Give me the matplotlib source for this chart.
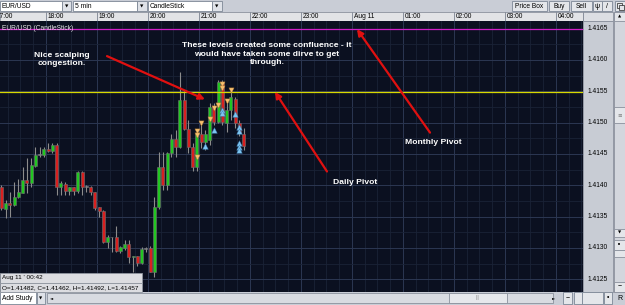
import numpy as np
import matplotlib
matplotlib.use("Agg")
import matplotlib.pyplot as plt
from matplotlib.patches import Rectangle
from matplotlib.ticker import MultipleLocator

W, H = 625, 305

# EUR/USD 5 min candles starting 17:05
opens = [1.41397, 1.41362, 1.41372, 1.41368, 1.41381, 1.41388, 1.41408, 1.41404, 1.41431, 1.41448,
         1.41448, 1.41458, 1.41455, 1.41464, 1.41397, 1.41402, 1.41391, 1.41397, 1.41391, 1.41421,
         1.41397, 1.41397, 1.41389, 1.41365, 1.41359, 1.41309, 1.41317, 1.41317, 1.41295, 1.41300,
         1.41306, 1.41285, 1.41287, 1.41276, 1.41298, 1.41300, 1.41262, 1.41365, 1.41429, 1.41400,
         1.41452, 1.41474, 1.41461, 1.41536, 1.41490, 1.41461, 1.41429, 1.41482, 1.41469, 1.41472,
         1.41525, 1.41501, 1.41565, 1.41500, 1.41520, 1.41538, 1.41500, 1.41482]
highs = [1.41400, 1.41376, 1.41389, 1.41405, 1.41410, 1.41429, 1.41444, 1.41444, 1.41461, 1.41461,
         1.41461, 1.41468, 1.41468, 1.41468, 1.41407, 1.41405, 1.41397, 1.41398, 1.41422, 1.41422,
         1.41400, 1.41399, 1.41390, 1.41366, 1.41361, 1.41320, 1.41318, 1.41335, 1.41303, 1.41312,
         1.41312, 1.41288, 1.41288, 1.41301, 1.41301, 1.41303, 1.41381, 1.41453, 1.41453, 1.41453,
         1.41482, 1.41488, 1.41581, 1.41552, 1.41504, 1.41468, 1.41490, 1.41500, 1.41488, 1.41532,
         1.41532, 1.41568, 1.41568, 1.41536, 1.41552, 1.41541, 1.41504, 1.41492]
lows = [1.41360, 1.41348, 1.41349, 1.41367, 1.41380, 1.41387, 1.41388, 1.41397, 1.41429, 1.41445,
        1.41445, 1.41453, 1.41452, 1.41384, 1.41384, 1.41384, 1.41384, 1.41384, 1.41388, 1.41384,
        1.41389, 1.41384, 1.41360, 1.41349, 1.41308, 1.41300, 1.41293, 1.41294, 1.41292, 1.41296,
        1.41276, 1.41261, 1.41272, 1.41274, 1.41293, 1.41261, 1.41253, 1.41362, 1.41392, 1.41392,
        1.41445, 1.41445, 1.41460, 1.41488, 1.41452, 1.41423, 1.41423, 1.41460, 1.41456, 1.41464,
        1.41496, 1.41500, 1.41496, 1.41485, 1.41504, 1.41492, 1.41479, 1.41457]
closes = [1.41364, 1.41372, 1.41368, 1.41381, 1.41389, 1.41408, 1.41404, 1.41432, 1.41448, 1.41448,
          1.41458, 1.41455, 1.41464, 1.41397, 1.41404, 1.41391, 1.41397, 1.41391, 1.41421, 1.41397,
          1.41397, 1.41389, 1.41364, 1.41359, 1.41309, 1.41317, 1.41317, 1.41295, 1.41301, 1.41306,
          1.41285, 1.41287, 1.41276, 1.41298, 1.41298, 1.41262, 1.41365, 1.41429, 1.41400, 1.41452,
          1.41474, 1.41461, 1.41536, 1.41490, 1.41461, 1.41429, 1.41482, 1.41469, 1.41482, 1.41525,
          1.41501, 1.41565, 1.41501, 1.41520, 1.41540, 1.41500, 1.41484, 1.41462]

# signal markers (candle index, price)
sell_idx = [46, 46, 46, 47, 49, 50, 51, 52, 52, 53, 54]
sell_px = [1.41445, 1.41487, 1.41480, 1.41499, 1.41506, 1.41523, 1.41528, 1.41562, 1.41555, 1.41534, 1.41552]
buy_idx = [48, 50, 52, 52, 55, 56, 56, 56, 56, 56]
buy_px = [1.41463, 1.41488, 1.41520, 1.41515, 1.41514, 1.41493, 1.41487, 1.41467, 1.41461, 1.41456]

daily_pivot = 1.41549
monthly_pivot = 1.41649

hour_labels = ["17:00", "18:00", "19:00", "20:00", "21:00", "22:00", "23:00",
               "Aug 11", "01:00", "02:00", "03:00", "04:00"]
price_ticks = [1.4125, 1.4130, 1.4135, 1.4140, 1.4145, 1.4150, 1.4155, 1.4160, 1.4165]

BG = "#0b1020"
PANEL = "#c9cdd6"
FONT = "Liberation Sans"


def box(x0, y0, x1, y1):
    return [x0 / W, 1 - y1 / H, (x1 - x0) / W, (y1 - y0) / H]


def rect(a, x0, y0, x1, y1, fc, ec="#8a909c", lw=0.6):
    a.add_patch(Rectangle((x0, y0), x1 - x0, y1 - y0, fc=fc, ec=ec, lw=lw))


def label(a, x, y, s, size=4.8, ha="left", color="black"):
    a.text(x, y, s, fontsize=size, ha=ha, va="center", color=color, family=FONT)


def glyph(a, x, y, s, size=3.2):
    a.text(x, y, s, fontsize=size, ha="center", va="center")


fig = plt.figure(figsize=(6.25, 3.05), dpi=100)

# ---- window chrome (pixel coords) ----
ui = fig.add_axes([0, 0, 1, 1])
ui.set_xlim(0, W)
ui.set_ylim(H, 0)
ui.axis("off")
ui.set_zorder(0)

rect(ui, 0, 0, W, H, PANEL, ec="none")

# toolbar
for x0, x1, xa, s in [(0, 62, 71, "EUR/USD"), (73, 137, 147, "5 min"), (148, 212, 222, "CandleStick")]:
    rect(ui, x0, 0.5, x1, 11, "white", ec="#7d8796")
    rect(ui, x1, 0.5, xa, 11, "#dfe2e8", ec="#7d8796")
    label(ui, x0 + 2, 6, s)
    glyph(ui, (x1 + xa) / 2, 6.3, "▼")
for x0, x1, s in [(512, 547, "Price Box"), (549, 569, "Buy"), (571, 592, "Sell")]:
    rect(ui, x0, 1, x1, 11, "#e4e6ea", ec="#7d8796")
    label(ui, (x0 + x1) / 2, 6, s, ha="center")
rect(ui, 593, 1, 602, 11, "#e4e6ea", ec="#7d8796")
label(ui, 597.5, 6, "ψ", ha="center", size=5)
rect(ui, 602, 1, 612, 11, "#e4e6ea", ec="#7d8796")
label(ui, 607, 6, "/", ha="center", size=5)
rect(ui, 615, 1, 625, 11, "#e4e6ea", ec="#7d8796")
rect(ui, 617, 3, 622, 7.5, "none", ec="#222222", lw=0.5)
rect(ui, 619, 5, 624, 9.5, "#e4e6ea", ec="#222222", lw=0.5)

# price column + header corner
rect(ui, 583, 12, 613, 21, "#dcdee3")
rect(ui, 583, 21, 613, 292, "#c8ccd4")

# vertical scrollbar
rect(ui, 614, 12, 625, 292, "#d3d6dd")
rect(ui, 614, 12, 625, 21, "#e4e6ea")
glyph(ui, 619.5, 16.5, "▲", 3)
rect(ui, 614, 107, 625, 123, "#e4e6ea")
ui.text(619.5, 115, "≡", fontsize=4, ha="center", va="center", color="#777777")
rect(ui, 614, 229, 625, 237, "#e4e6ea")
glyph(ui, 619.5, 233, "▼", 3)
rect(ui, 614, 240, 625, 250, "#e4e6ea")
glyph(ui, 619.5, 245, "•", 5)
rect(ui, 614, 250, 625, 257, "#e4e6ea")
rect(ui, 614, 282, 625, 292, "#e4e6ea")
label(ui, 619.5, 287, "−", ha="center", size=5)

# bottom bar
rect(ui, 0, 292, 36, 304, "white", ec="#7d8796")
label(ui, 2, 298, "Add Study")
rect(ui, 37, 292, 45, 304, "#dfe2e8", ec="#7d8796")
glyph(ui, 41, 298.3, "▼", 3)
rect(ui, 47, 293, 553, 303, "#d8dbe1")
glyph(ui, 52, 298, "◄", 3)
rect(ui, 449, 293, 507, 303, "#e6e8ec")
label(ui, 478, 298, "|||", ha="center", size=3.5, color="#888888")
glyph(ui, 554, 298, "►", 3)
rect(ui, 563, 292, 572, 304, "#e4e6ea", ec="#7d8796")
label(ui, 567.5, 298, "−", ha="center", size=5)
rect(ui, 574, 292, 582, 304, "#e4e6ea", ec="#7d8796")
rect(ui, 582, 292, 603, 304, "#e4e6ea", ec="#7d8796")
rect(ui, 604, 292, 612, 304, "#e4e6ea", ec="#7d8796")
label(ui, 608, 298, "•", ha="center", size=5)
label(ui, 620, 298, "R", ha="center", size=5)

# ---- main chart ----
t = 7.5 + 5 * np.arange(len(opens))          # minutes after 17:00
xlim = (5.9, 691.8)
ylim = (1.412298, 1.41662)

ax = fig.add_axes(box(0, 21, 583, 292))
ax.set_zorder(2)
ax.set_facecolor(BG)
ax.set_xlim(*xlim)
ax.set_ylim(*ylim)
ax.xaxis.set_major_locator(MultipleLocator(60))
ax.xaxis.set_minor_locator(MultipleLocator(15))
ax.yaxis.set_major_locator(MultipleLocator(0.0005))
ax.yaxis.set_minor_locator(MultipleLocator(0.00025))
ax.grid(which="major", color="#2c3752", lw=0.7)
ax.grid(which="minor", color="#1a2236", lw=0.6)
ax.set_axisbelow(True)
ax.tick_params(which="both", length=0, labelbottom=False, labelleft=False)
for sp in ax.spines.values():
    sp.set_visible(False)

o = np.array(opens)
c = np.array(closes)
body_lo = np.minimum(o, c)
body_h = np.maximum(np.abs(c - o), 0.000012)
cols = np.where(c > o, "#22c622", np.where(c < o, "#d82020", "#a8a8a8"))

ax.vlines(t, lows, highs, color="#8c8c8c", lw=0.8, zorder=2)
ax.bar(t, body_h, width=3.5, bottom=body_lo, color=cols, edgecolor="#707070", linewidth=0.4, zorder=3)

ax.axhline(monthly_pivot, color="#d020c8", lw=0.9, zorder=4)
ax.axhline(daily_pivot, color="#d8d800", lw=0.9, zorder=4)

ax.scatter(t[sell_idx], sell_px, marker="v", s=14, color="#f7c070", edgecolor="#b07a30", lw=0.3, zorder=5)
ax.scatter(t[buy_idx], buy_px, marker="^", s=16, color="#7cc4f0", edgecolor="#3a7ab0", lw=0.3, zorder=5)

txt = dict(color="white", fontsize=6.1, fontweight="bold", family=FONT, ha="center", va="center",
           linespacing=1.25, zorder=6)
arrow = dict(arrowstyle="-|>", color="#e01010", lw=1.6, mutation_scale=9, shrinkA=0, shrinkB=0)

ax.text(78.8, 1.41601, "Nice scalping\ncongestion.", **txt)
ax.text(320, 1.41609, "These levels created some confluence - it\nwould have taken some dirve to get\nthrough.", **txt)
ax.text(423.5, 1.41404, "Daily Pivot", **txt)
ax.text(515.3, 1.41468, "Monthly Pivot", **txt)

ax.annotate("", xy=(247, 1.41537), xytext=(131.8, 1.41606), arrowprops=arrow, zorder=6)
ax.annotate("", xy=(329.4, daily_pivot), xytext=(390.6, 1.41422), arrowprops=arrow, zorder=6)
ax.annotate("", xy=(425.9, monthly_pivot), xytext=(511.8, 1.41484), arrowprops=arrow, zorder=6)

ax.text(0.004, 0.985, "EUR/USD (CandleStick)", transform=ax.transAxes, fontsize=4.8, family=FONT,
        color="#e8e8e8", ha="left", va="top", zorder=6)

# time header
axh = fig.add_axes(box(0, 12, 583, 21))
axh.set_zorder(1)
axh.set_facecolor("#e2e3e6")
axh.set_xlim(*xlim)
axh.set_ylim(0, 1)
axh.set_xticks([])
axh.set_yticks([])
for sp in axh.spines.values():
    sp.set_color("#8a909c")
    sp.set_linewidth(0.6)
hours = 60 * np.arange(len(hour_labels))
for hx, s in zip(hours, hour_labels):
    axh.axvline(hx, color="#8a909c", lw=0.7)
    axh.text(hx + 1.8, 0.5, s, fontsize=4.8, family=FONT, ha="left", va="center", clip_on=True)

# price labels
axp = fig.add_axes(box(583, 21, 613, 292))
axp.set_zorder(1)
axp.axis("off")
axp.set_xlim(0, 1)
axp.set_ylim(*ylim)
for p in price_ticks:
    axp.text(0.5, p, f"{p:.4f}", fontsize=4.8, family=FONT, ha="center", va="center")

# info box overlay
top = fig.add_axes([0, 0, 1, 1])
top.set_xlim(0, W)
top.set_ylim(H, 0)
top.axis("off")
top.set_zorder(5)
top.patch.set_alpha(0)
rect(top, 0, 273, 142, 282.5, "#dcdde1", ec="#9096a0")
rect(top, 0, 282.5, 142, 292, "#dcdde1", ec="#9096a0")
label(top, 2, 277.8, "Aug 11 ' 00:42", size=4.6)
label(top, 2, 287.3, f"O={opens[-1]:.5f}, C={closes[-1]:.5f}, H={highs[-1]:.5f}, L={lows[-1]:.5f}", size=4.6)

fig.savefig("out.png", dpi=100)
